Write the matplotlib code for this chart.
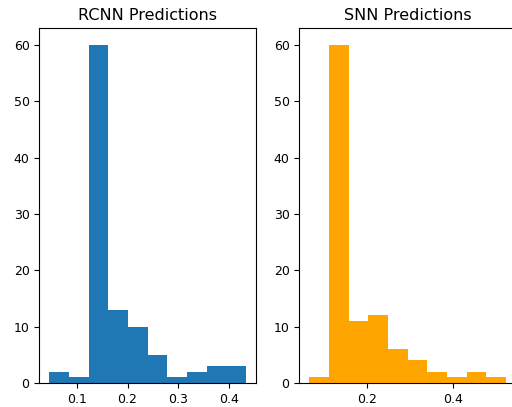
import numpy as np
import matplotlib
matplotlib.use("Agg")
from matplotlib import pyplot as plt

# histogram counts
rcnn_counts = [2, 1, 60, 13, 10, 5, 1, 2, 3, 3]
rcnn_range = (0.046, 0.433)
snn_counts = [1, 60, 11, 12, 6, 4, 2, 1, 2, 1]
snn_range = (0.065, 0.524)

fig = plt.figure(figsize=(5.12, 4.07), dpi=100)
ax1 = fig.add_axes([0.0768, 0.059, 0.4232, 0.8715])
ax2 = fig.add_axes([0.5846, 0.059, 0.4232, 0.8715])


def draw(ax, counts, rng, color, title):
    edges = np.linspace(rng[0], rng[1], len(counts) + 1)
    centers = (edges[:-1] + edges[1:]) / 2
    ax.hist(centers, bins=edges, weights=counts, color=color)
    ax.set_title(title, fontsize=11.5)
    ax.tick_params(labelsize=9)


draw(ax1, rcnn_counts, rcnn_range, '#1f77b4', 'RCNN Predictions')
draw(ax2, snn_counts, snn_range, 'orange', 'SNN Predictions')
ax1.set_xticks([0.1, 0.2, 0.3, 0.4])
ax2.set_xticks([0.2, 0.4])

plt.savefig('out.png', dpi=100)
